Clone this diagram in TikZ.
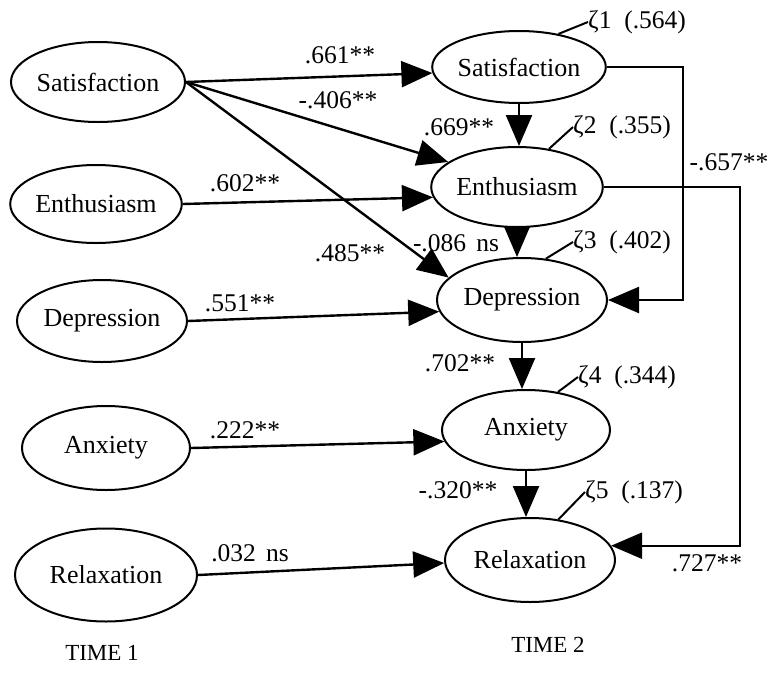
\documentclass[tikz,border=0pt]{standalone}
\usepackage{fontspec}
\setmainfont{Liberation Serif}
\usetikzlibrary{shapes.geometric,arrows.meta}
\begin{document}
\begin{tikzpicture}[x=1pt,y=-1pt,
  lat/.style={ellipse,draw,line width=2pt,inner sep=0pt,font=\fontsize{26}{31}\selectfont},
  con/.style={line width=2.4pt},
  arr/.style={con,-{Triangle[length=31pt,width=26pt]}},
  lab/.style={inner sep=0pt,font=\fontsize{25.5}{30}\selectfont},
  zlab/.style={inner sep=0pt,anchor=west,font=\fontsize{25.5}{30}\selectfont},
  tlab/.style={inner sep=0pt,font=\fontsize{23}{27}\selectfont},
  zl/.style={line width=2pt}]
\useasboundingbox (0,0) rectangle (772,673);
% Time 1
\node[lat,minimum width=174pt,minimum height=80pt] (L1) at (98,82) {Satisfaction};
\node[lat,minimum width=168pt,minimum height=78pt] (L2) at (96,204) {Enthusiasm};
\node[lat,minimum width=170pt,minimum height=82pt] (L3) at (102,321) {Depression};
\node[lat,minimum width=168pt,minimum height=84pt] (L4) at (106,448) {Anxiety};
\node[lat,minimum width=182pt,minimum height=93pt] (L5) at (106,575) {Relaxation};
% Time 2
\node[lat,minimum width=168pt,minimum height=72pt] (R1) at (519,67) {Satisfaction};
\node[lat,minimum width=168pt,minimum height=80pt] (R2) at (517,187) {Enthusiasm};
\node[lat,minimum width=170pt,minimum height=84pt] (R3) at (522,300) {Depression};
\node[lat,minimum width=168pt,minimum height=80pt] (R4) at (526,430) {Anxiety};
\node[lat,minimum width=170pt,minimum height=84pt] (R5) at (530,560) {Relaxation};
\coordinate (xm) at (683,0);
\coordinate (xr) at (740,0);
% cross-lagged / stability paths
\draw[arr] (L1.east) -- (R1.184);
\draw[arr] (L1.east) -- (R2.160);
\draw[arr] (L1.east) -- (R3.163);
\draw[arr] (L2.east) -- (R2.187);
\draw[arr] (L3.east) -- (R3.188);
\draw[arr] (L4.east) -- (R4.188);
\draw[arr] (L5.east) -- (R5.182);
% within time 2
\draw[arr] (R1.south) -- (R1.south |- R2.north);
\draw[arr] (R2.south) -- (R2.south |- R3.north);
\draw[arr] (R3.south) -- (R3.south |- R4.north);
\draw[arr] (R4.south) -- (R4.south |- R5.north);
\draw[arr] (R1.east) -- (R1.east -| xm) |- (R3.east);
\draw[arr] (R2.east) -- (R2.east -| xr) |- (R5.10);
% labels
\node[lab] (a1) at (340,55) {.661**};
\node[lab] (a2) at (338,100) {-.406**};
\node[lab] (a3) at (459,127) {.669**};
\node[lab] (a4) at (245,183) {.602**};
\node[lab] (a5) at (350,253) {.485**};
\node[lab] (a6) at (456,243) {-.086\hspace{0.4em}ns};
\node[lab] (a7) at (240,303) {.551**};
\node[lab] (a8) at (245,430) {.222**};
\node[lab] (a9) at (250,553) {.032\hspace{0.4em}ns};
\node[lab] (a10) at (460,363) {.702**};
\node[lab] (a11) at (458,490) {-.320**};
\node[lab] (a12) at (729,162) {-.657**};
\node[lab] (a13) at (707,563) {.727**};
% disturbances
\node[zlab] (z1) at (588,22) {ζ1\hspace{0.5em}(.564)};
\node[zlab] (z2) at (573,127) {ζ2\hspace{0.5em}(.355)};
\node[zlab] (z3) at (573,242) {ζ3\hspace{0.5em}(.402)};
\node[zlab] (z4) at (578,377) {ζ4\hspace{0.5em}(.344)};
\node[zlab] (z5) at (585,492) {ζ5\hspace{0.5em}(.137)};
\draw[zl] (R1.40) -- (z1.west);
\draw[zl] (R2.50) -- (z2.west);
\draw[zl] (R3.60) -- (z3.west);
\draw[zl] (R4.50) -- (z4.west);
\draw[zl] (R5.55) -- (z5.west);
% time labels
\node[tlab] (t1) at (102,653) {TIME 1};
\node[tlab] (t2) at (548,645) {TIME 2};
\end{tikzpicture}
\end{document}
